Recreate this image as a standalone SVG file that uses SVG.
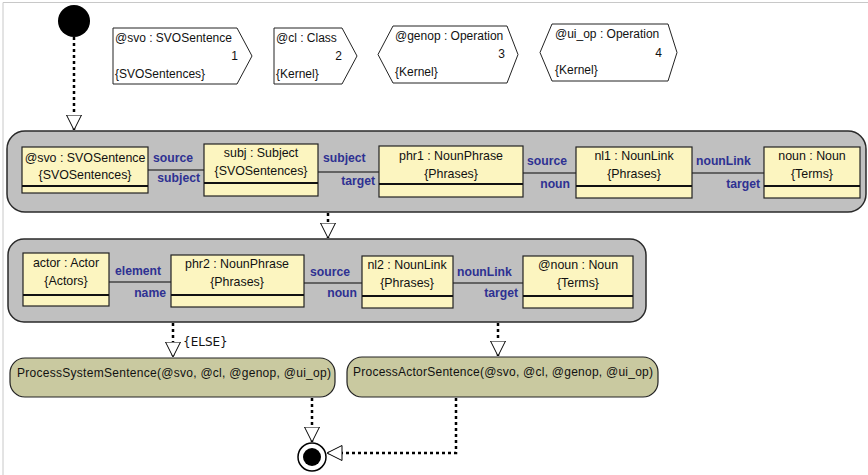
<svg xmlns="http://www.w3.org/2000/svg" width="868" height="475" viewBox="0 0 868 475">
<style>
  text { font-family: "Liberation Sans", Arial, sans-serif; font-size: 12px; fill: #111; }
  .c { text-anchor: middle; font-size: 12.4px; }
  .e { text-anchor: end; }
  .role { font-weight: bold; fill: #2e3192; font-size: 12.2px; }
  .param { fill: #fff; stroke: #222; stroke-width: 1; }
  .frag { fill: #c0c0c0; stroke: #2a2a2a; stroke-width: 1.5; }
  .obj { fill: #fcf5c0; stroke: #222; stroke-width: 1.2; }
  .sep { stroke: #111; stroke-width: 2; }
  .assoc { stroke: #444; stroke-width: 1.5; fill: none; }
  .act { fill: #c9c9a0; stroke: #222; stroke-width: 1.2; }
  .flow { stroke: #000; stroke-width: 2.5; stroke-dasharray: 3 3; fill: none; marker-end: url(#tri); }
</style>
<defs>
  <marker id="tri" markerUnits="userSpaceOnUse" viewBox="0 0 16 16" refX="15.5" refY="8" markerWidth="16" markerHeight="16" orient="auto">
    <path d="M0.5,0.5 L15.5,8 L0.5,15.5 Z" fill="#fff" stroke="#000" stroke-width="1"/>
  </marker>
</defs>
<rect width="868" height="475" fill="#fff"/>
<path d="M3,475 L3,2.5 L868,2.5" fill="none" stroke="#c8c8c8" stroke-width="1"/>

<g id="initial">
  <circle cx="74" cy="21" r="16" fill="#000"/>
</g>

<g id="param-svo">
  <path class="param" d="M113,28 L237,28 L252,56 L237,84 L113,84 Z"/>
  <text x="115" y="42">@svo : SVOSentence</text>
  <text x="238" y="60" class="e">1</text>
  <text x="115" y="78">{SVOSentences}</text>
</g>
<g id="param-cl">
  <path class="param" d="M274,28 L342,28 L357,56 L342,84 L274,84 Z"/>
  <text x="276" y="42">@cl : Class</text>
  <text x="342" y="60" class="e">2</text>
  <text x="276" y="78">{Kernel}</text>
</g>
<g id="param-genop">
  <path class="param" d="M378,54.5 L393,26 L507,26 L518,54.5 L507,83 L393,83 Z"/>
  <text x="395" y="40">@genop : Operation</text>
  <text x="505" y="58" class="e">3</text>
  <text x="395" y="76">{Kernel}</text>
</g>
<g id="param-uiop">
  <path class="param" d="M540,52.5 L552,24 L668,24 L677,52.5 L668,81 L552,81 Z"/>
  <text x="555" y="38">@ui_op : Operation</text>
  <text x="662" y="57" class="e">4</text>
  <text x="555" y="74">{Kernel}</text>
</g>

<g id="fragment1">
  <rect class="frag" x="7" y="131" width="859" height="81" rx="18" ry="18"/>
</g>
<g id="fragment2">
  <rect class="frag" x="8" y="239" width="638" height="83" rx="16" ry="16"/>
</g>

<g id="connectors">
  <line class="assoc" x1="148" y1="170" x2="204" y2="170"/>
  <line class="assoc" x1="318" y1="172" x2="379" y2="172"/>
  <line class="assoc" x1="523" y1="173" x2="576" y2="173"/>
  <line class="assoc" x1="692" y1="173" x2="764" y2="173"/>
  <line class="assoc" x1="109" y1="282" x2="171" y2="282"/>
  <line class="assoc" x1="304" y1="283" x2="362" y2="283"/>
  <line class="assoc" x1="453" y1="283" x2="523" y2="283"/>

  <text class="role" x="153" y="162">source</text>
  <text class="role e" x="200" y="182">subject</text>
  <text class="role" x="323" y="162">subject</text>
  <text class="role e" x="375" y="185">target</text>
  <text class="role" x="527" y="165">source</text>
  <text class="role e" x="570" y="188">noun</text>
  <text class="role" x="696" y="165">nounLink</text>
  <text class="role e" x="760" y="188">target</text>
  <text class="role" x="115" y="275">element</text>
  <text class="role e" x="166" y="297">name</text>
  <text class="role" x="310" y="276">source</text>
  <text class="role e" x="357" y="297">noun</text>
  <text class="role" x="457" y="276">nounLink</text>
  <text class="role e" x="518" y="297">target</text>

  <path class="flow" d="M74,37 L74,130"/>
  <path class="flow" d="M328,213 L328,238"/>
  <path class="flow" d="M173,323 L173,357"/>
  <path class="flow" d="M498,323 L498,356"/>
  <path class="flow" d="M312,398 L312,442"/>
  <path class="flow" d="M456,398 L456,453 L327,453"/>
  <text x="183" y="346" style="font-family:'DejaVu Sans',sans-serif;font-size:12px">{ELSE}</text>
</g>

<g id="obj-svo">
  <rect class="obj" x="22" y="147" width="126" height="46"/>
  <line class="sep" x1="22" y1="186" x2="148" y2="186" stroke="#555"/>
  <text class="c" x="85" y="162">@svo : SVOSentence</text>
  <text class="c" x="85" y="179">{SVOSentences}</text>
</g>
<g id="obj-subj">
  <rect class="obj" x="204" y="144" width="114" height="52"/>
  <line class="sep" x1="204" y1="183" x2="318" y2="183"/>
  <text class="c" x="261" y="157">subj : Subject</text>
  <text class="c" x="261" y="175">{SVOSentences}</text>
</g>
<g id="obj-phr1">
  <rect class="obj" x="379" y="146" width="144" height="51"/>
  <line class="sep" x1="379" y1="184" x2="523" y2="184" stroke="#555"/>
  <text class="c" x="451" y="160">phr1 : NounPhrase</text>
  <text class="c" x="451" y="178">{Phrases}</text>
</g>
<g id="obj-nl1">
  <rect class="obj" x="576" y="147" width="116" height="51"/>
  <line class="sep" x1="576" y1="186" x2="692" y2="186" stroke="#555"/>
  <text class="c" x="634" y="160">nl1 : NounLink</text>
  <text class="c" x="634" y="178">{Phrases}</text>
</g>
<g id="obj-noun">
  <rect class="obj" x="764" y="147" width="96" height="51"/>
  <line class="sep" x1="764" y1="186" x2="860" y2="186" stroke="#555"/>
  <text class="c" x="812" y="160">noun : Noun</text>
  <text class="c" x="812" y="178">{Terms}</text>
</g>

<g id="obj-actor">
  <rect class="obj" x="23" y="253" width="86" height="53"/>
  <line class="sep" x1="23" y1="295" x2="109" y2="295" stroke="#555"/>
  <text class="c" x="66" y="267">actor : Actor</text>
  <text class="c" x="66" y="285">{Actors}</text>
</g>
<g id="obj-phr2">
  <rect class="obj" x="171" y="255" width="133" height="52"/>
  <line class="sep" x1="171" y1="295" x2="304" y2="295"/>
  <text class="c" x="237" y="268">phr2 : NounPhrase</text>
  <text class="c" x="237" y="286">{Phrases}</text>
</g>
<g id="obj-nl2">
  <rect class="obj" x="362" y="256" width="91" height="52"/>
  <line class="sep" x1="362" y1="296" x2="453" y2="296"/>
  <text class="c" x="407" y="269">nl2 : NounLink</text>
  <text class="c" x="407" y="287">{Phrases}</text>
</g>
<g id="obj-atnoun">
  <rect class="obj" x="523" y="256" width="110" height="52"/>
  <line class="sep" x1="523" y1="296" x2="633" y2="296"/>
  <text class="c" x="578" y="269">@noun : Noun</text>
  <text class="c" x="578" y="287">{Terms}</text>
</g>

<g id="process-system">
  <rect class="act" x="10" y="358" width="325" height="39" rx="15" ry="15"/>
  <text x="17" y="377" textLength="314" lengthAdjust="spacing">ProcessSystemSentence(@svo, @cl, @genop, @ui_op)</text>
</g>
<g id="process-actor">
  <rect class="act" x="347" y="357" width="311" height="40" rx="15" ry="15"/>
  <text x="353" y="376" textLength="300" lengthAdjust="spacing">ProcessActorSentence(@svo, @cl, @genop, @ui_op)</text>
</g>

<g id="final">
  <circle cx="312" cy="457" r="14" fill="#fff" stroke="#000" stroke-width="1.5"/>
  <circle cx="312" cy="457" r="9" fill="#000"/>
</g>
</svg>
